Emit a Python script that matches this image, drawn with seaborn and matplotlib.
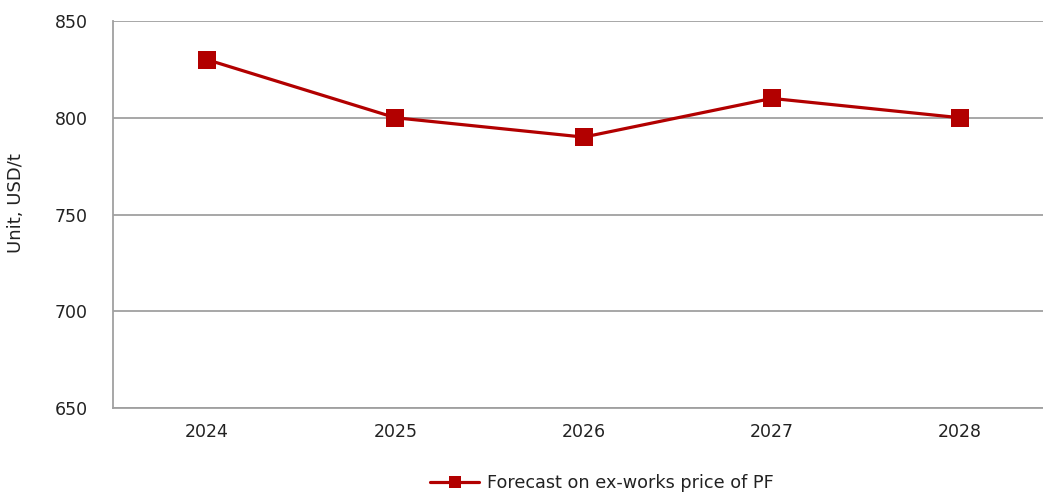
import matplotlib
matplotlib.use("Agg")
import matplotlib.pyplot as plt
import seaborn as sns
import pandas as pd

years = ["2024", "2025", "2026", "2027", "2028"]
prices = [830, 800, 790, 810, 800]
series_name = "Forecast on ex-works price of PF"
y_ticks = [650, 700, 750, 800, 850]

sns.set_theme(style="white")
plt.rcParams['font.family'] = ['DejaVu Sans']

df = pd.DataFrame({"year": years, "price": prices, "series": series_name})

W, H = 1043, 492
fig = plt.figure(figsize=(W / 100, H / 100), dpi=100)
ax = fig.add_axes([113 / W, 1 - 408 / H, (W - 113) / W, (408 - 21) / H])

color = "#B20000"
sns.lineplot(data=df, x="year", y="price", hue="series", palette=[color],
             marker="s", markersize=13, markeredgewidth=0, linewidth=2.3,
             sort=False, ax=ax)

ax.set_ylim(650, 850)
ax.set_yticks(y_ticks)
ax.set_xlim(-0.5, (W - 206) / 188.5)
ax.yaxis.grid(True, color="#a0a0a0", linewidth=1.3)
ax.xaxis.grid(False)
ax.set_axisbelow(True)
for s in ["top", "right"]:
    ax.spines[s].set_visible(False)
for s in ["left", "bottom"]:
    ax.spines[s].set_color("#a0a0a0")
    ax.spines[s].set_linewidth(1.3)
ax.tick_params(axis="both", length=0, labelsize=12.5, colors="#222222")
ax.tick_params(axis="y", pad=18)
ax.tick_params(axis="x", pad=11)
ax.set_xlabel("")
ax.set_ylabel("Unit, USD/t", fontsize=13, color="#222222")
ax.yaxis.set_label_coords(-0.095, 0.53)

ax.legend_.remove()
handles, labels = ax.get_legend_handles_labels()
for h in handles:
    h.set_markersize(8)
leg = fig.legend(handles, labels, loc="center", bbox_to_anchor=(602 / W, 1 - 483 / H),
                 frameon=False, fontsize=12.7, handlelength=2.8, handletextpad=0.45)
for t in leg.get_texts():
    t.set_color("#222222")

fig.savefig("out.png", dpi=100)
